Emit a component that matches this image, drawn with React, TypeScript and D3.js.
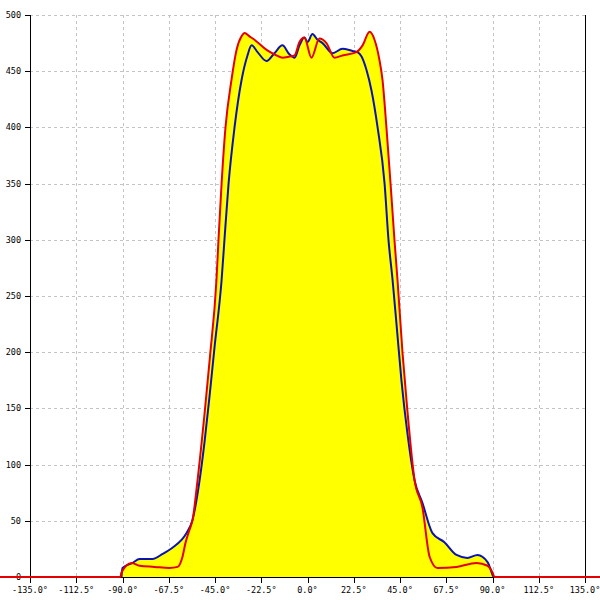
import React from "react";
import * as d3 from "d3";

const xTicks = [-135, -112.5, -90, -67.5, -45, -22.5, 0, 22.5, 45, 67.5, 90, 112.5, 135];
const yTicks = [0, 50, 100, 150, 200, 250, 300, 350, 400, 450, 500];

const blueAngles = [-90.5, -90, -85.1, -81.7, -75.4, -70.5, -65.7, -61.3, -58.9, -55.9, -52.5, -50.1, -47.7, -45.2, -41.8, -40.4, -38.4, -35.5, -32.1, -29.2, -27.2, -24.3, -19.9, -16.1, -12.2, -8.8, -6.3, -3.9, -1.5, 0, 2.4, 4.9, 7.3, 12.2, 17.0, 21.9, 24.3, 26.3, 28.7, 31.1, 34.1, 37.5, 39.4, 41.4, 43.3, 45.7, 48.6, 52.1, 55.9, 60.8, 66.6, 72.5, 77.8, 82.7, 87.6, 90, 90.5];
const blueValues = [0, 8, 12.5, 16, 16, 20.5, 26, 33, 39, 51, 86, 120, 160, 205, 264, 300, 350, 400, 442, 464, 473, 467, 459, 466, 473, 465, 462, 473, 480, 476, 483, 478, 475, 466, 470, 468, 467, 463, 451, 433, 400, 350, 300, 264, 225, 175, 128, 86, 66, 39, 31, 19.6, 17, 19.6, 13.3, 2, 0];

const redAngles = [-150, -91, -90.5, -85.6, -81.7, -74.4, -67.1, -63.2, -60.8, -59.4, -57.4, -55.9, -53.5, -50.1, -47.5, -44.3, -43.3, -41.8, -39.9, -37.0, -34.5, -32.1, -30.6, -28.2, -25.8, -19.9, -16.1, -12.2, -8.8, -6.3, -3.9, -1.5, 1.9, 5.8, 9.2, 13.1, 17.0, 23.8, 26.8, 30.2, 32.6, 35.0, 36.5, 38.4, 40.4, 42.3, 43.8, 46.2, 48.5, 52.1, 55.9, 59.4, 63.2, 72.5, 82.2, 87.6, 90, 91, 150];
const redValues = [0, 0, 4, 12.5, 10, 9, 8, 9, 18, 30, 42, 51, 86, 145, 195, 264, 300, 350, 400, 442, 469, 481, 484, 481, 478, 469, 465, 462, 463, 464, 476, 480, 462, 479, 475, 462, 464, 467, 473, 485, 478, 460, 442, 400, 350, 300, 264, 200, 150, 86, 62, 18, 8, 9, 12.5, 10, 4, 0, 0];

const W = 600;
const H = 600;
const LEFT = 30;
const RIGHT = 585;
const TOP = 15;
const BOTTOM = 577;
const FONT = "'DejaVu Sans Mono', monospace";

export default function App() {
  const x = d3.scaleLinear().domain([-135, 135]).range([LEFT, RIGHT]);
  const y = d3.scaleLinear().domain([0, 500]).range([BOTTOM, TOP]);

  const blue: [number, number][] = blueAngles.map((a, i) => [a, blueValues[i]]);
  const red: [number, number][] = redAngles.map((a, i) => [a, redValues[i]]);

  const area = d3
    .area<[number, number]>()
    .curve(d3.curveMonotoneX)
    .x((d) => x(d[0]))
    .y0(y(0))
    .y1((d) => y(d[1]));
  const line = d3
    .line<[number, number]>()
    .curve(d3.curveMonotoneX)
    .x((d) => x(d[0]))
    .y((d) => y(d[1]));

  const fmtX = (v: number) => v.toFixed(1) + "°";

  return (
    <svg
      width={W}
      height={H}
      style={{ position: "absolute", left: 0, top: 0, background: "#fff" }}
    >
      <rect x={0} y={0} width={W} height={H} fill="#fff" />
      {yTicks.filter((t) => t > 0).map((t) => (
        <line
          key={"gy" + t}
          x1={LEFT}
          x2={RIGHT}
          y1={Math.round(y(t)) + 0.5}
          y2={Math.round(y(t)) + 0.5}
          stroke="#c4c4c4"
          strokeDasharray="3,3"
        />
      ))}
      {xTicks.filter((t) => t > -135 && t < 135).map((t) => (
        <line
          key={"gx" + t}
          x1={Math.round(x(t)) + 0.5}
          x2={Math.round(x(t)) + 0.5}
          y1={TOP}
          y2={BOTTOM}
          stroke="#c4c4c4"
          strokeDasharray="3,3"
        />
      ))}
      <path d={area(red) || ""} fill="#ffff00" />
      <path d={area(blue) || ""} fill="#ffff00" />
      <line x1={LEFT + 0.5} x2={LEFT + 0.5} y1={TOP} y2={BOTTOM + 6} stroke="#000" />
      <line x1={RIGHT + 0.5} x2={RIGHT + 0.5} y1={TOP} y2={BOTTOM + 6} stroke="#000" />
      <line x1={LEFT} x2={RIGHT} y1={BOTTOM + 0.5} y2={BOTTOM + 0.5} stroke="#000" />
      {yTicks.map((t) => (
        <g key={"ty" + t}>
          <line
            x1={LEFT - 5}
            x2={LEFT}
            y1={Math.round(y(t)) + 0.5}
            y2={Math.round(y(t)) + 0.5}
            stroke="#000"
          />
          <text
            x={LEFT - 9}
            y={y(t)}
            dy="0.35em"
            textAnchor="end"
            fontFamily={FONT}
            fontSize={8.5}
            fill="#000"
          >
            {t}
          </text>
        </g>
      ))}
      {xTicks.map((t) => (
        <g key={"tx" + t}>
          <line
            x1={Math.round(x(t)) + 0.5}
            x2={Math.round(x(t)) + 0.5}
            y1={BOTTOM}
            y2={BOTTOM + 6}
            stroke="#000"
          />
          <text
            x={x(t)}
            y={593}
            textAnchor="middle"
            fontFamily={FONT}
            fontSize={8.5}
            fill="#000"
          >
            {fmtX(t)}
          </text>
        </g>
      ))}
      <path d={line(blue) || ""} fill="none" stroke="#0a14b4" strokeWidth={2} strokeLinejoin="round" />
      <path d={line(red) || ""} fill="none" stroke="#e40000" strokeWidth={2} strokeLinejoin="round" />
    </svg>
  );
}
